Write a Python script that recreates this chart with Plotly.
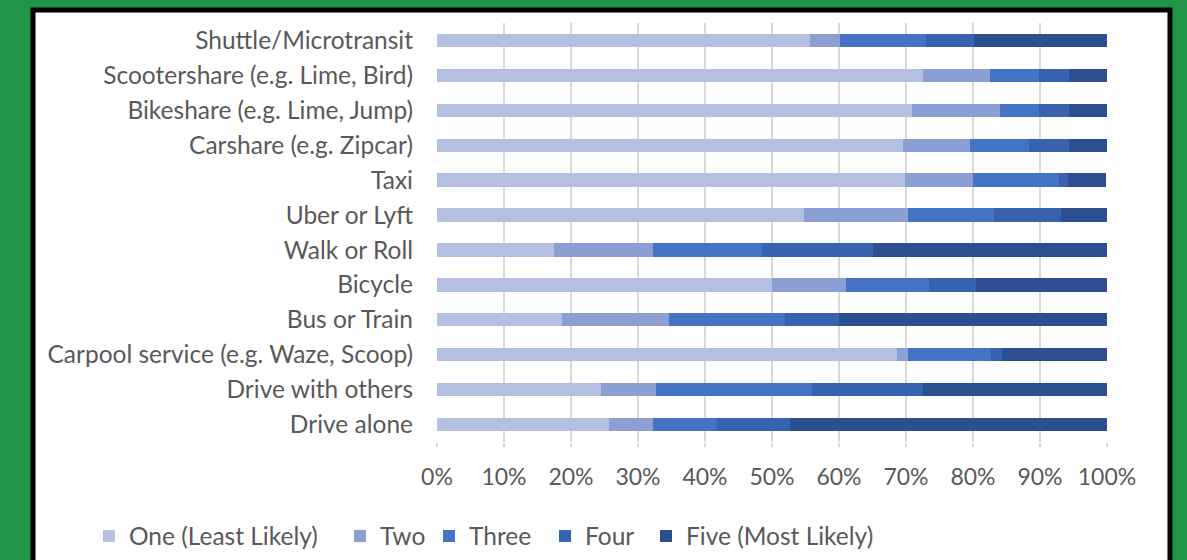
import plotly.graph_objects as go

categories = [
    "Shuttle/Microtransit",
    "Scootershare (e.g. Lime, Bird)",
    "Bikeshare (e.g. Lime, Jump)",
    "Carshare (e.g. Zipcar)",
    "Taxi",
    "Uber or Lyft",
    "Walk or Roll",
    "Bicycle",
    "Bus or Train",
    "Carpool service (e.g. Waze, Scoop)",
    "Drive with others",
    "Drive alone",
]

one   = [55.7, 72.5, 70.9, 69.5, 69.9, 54.8, 17.4, 50.0, 18.6, 68.7, 24.5, 25.6]
two   = [4.4, 10.1, 13.1, 10.1, 10.1, 15.5, 14.9, 11.0, 16.0, 1.6, 8.2, 6.7]
three = [12.9, 7.3, 5.9, 8.8, 12.8, 12.9, 16.2, 12.5, 17.3, 12.4, 23.3, 9.5]
four  = [7.1, 4.4, 4.4, 5.9, 1.4, 9.9, 16.5, 7.0, 8.1, 1.7, 16.6, 10.9]
five  = [20.0, 5.7, 5.7, 5.7, 5.7, 6.9, 35.0, 19.5, 40.0, 15.6, 27.4, 47.3]

series_names = ["One (Least Likely)", "Two", "Three", "Four", "Five (Most Likely)"]
series_vals = [one, two, three, four, five]
colors = ["#B4C0E2", "#8C9FD3", "#4472C4", "#3662B0", "#2C4F8F"]

W, H = 1187, 560
L, R, T, B = 437, 80, 23, 118

pw = W - L - R
ph = H - T - B
def px_x(p):
    return (p - L) / pw
def px_y(p):
    return (H - B - p) / ph

# left pixel positions of each legend entry
legend_px = [89, 340, 429, 545, 646]
legend_keys = ["legend", "legend2", "legend3", "legend4", "legend5"]

fig = go.Figure()
for name, vals, col, lk in zip(series_names, series_vals, colors, legend_keys):
    fig.add_trace(go.Bar(
        y=categories, x=[v / 100 for v in vals], name=name, orientation="h",
        marker=dict(color=col, line=dict(width=0)), legend=lk,
    ))

fig.add_shape(type="rect", xref="paper", yref="paper",
              x0=px_x(33), x1=px_x(1170), y0=px_y(600), y1=px_y(10),
              line=dict(color="black", width=5), fillcolor="white", layer="below")

legend_layout = {}
for lk, lx in zip(legend_keys, legend_px):
    legend_layout[lk] = dict(orientation="h", x=px_x(lx), y=px_y(536),
                             xanchor="left", yanchor="middle",
                             font=dict(size=24.5, color="#595959"),
                             itemwidth=30, bgcolor="rgba(0,0,0,0)")

fig.update_layout(
    width=W, height=H,
    barmode="stack", bargap=0.62,
    paper_bgcolor="#1F9548", plot_bgcolor="white",
    margin=dict(l=L, r=R, t=T, b=B, pad=0, autoexpand=False),
    font=dict(family="Lato", color="#595959", size=20),
    showlegend=True,
    xaxis=dict(range=[0, 1], tickformat=".0%", dtick=0.1, showgrid=True,
               gridcolor="#D9D9D9", gridwidth=1.5, zeroline=False,
               ticks="outside", ticklen=4, tickcolor="#D9D9D9", tickwidth=1.5,
               tickfont=dict(size=23, color="#595959"), ticklabelstandoff=10,
               showline=False, fixedrange=True),
    yaxis=dict(autorange="reversed", categoryorder="array", categoryarray=categories,
               showgrid=False, zeroline=False, showline=False,
               ticks="", ticklabelstandoff=23,
               tickfont=dict(size=24.5, color="#595959"), fixedrange=True),
    **legend_layout,
)

fig.write_html("out.html", config={"displayModeBar": False},
               post_script="document.body.style.margin='0';document.body.style.overflow='hidden';")
